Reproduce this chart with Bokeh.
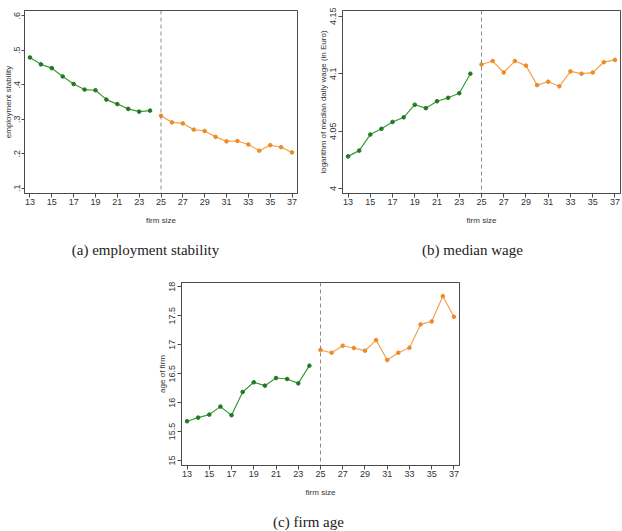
from bokeh.plotting import figure
from bokeh.models import Span, FixedTicker, Spacer
from bokeh.layouts import column, row
from bokeh.core.properties import value
from bokeh.embed import file_html
from bokeh.resources import INLINE

# firm size (number of employees) on the horizontal axis
firm_size = list(range(13, 38))
cutoff = 25

# outcomes by firm size
employment_stability = [0.479, 0.459, 0.448, 0.424, 0.402, 0.386, 0.384, 0.357, 0.344, 0.330, 0.322, 0.325,
                        0.310, 0.291, 0.288, 0.270, 0.266, 0.249, 0.236, 0.237, 0.227, 0.209, 0.225, 0.219, 0.204]
log_median_wage = [4.028, 4.033, 4.047, 4.052, 4.058, 4.062, 4.073, 4.070, 4.076, 4.079, 4.083, 4.100,
                   4.108, 4.111, 4.101, 4.111, 4.107, 4.090, 4.093, 4.089, 4.102, 4.100, 4.101, 4.110, 4.112]
firm_age = [15.678, 15.741, 15.793, 15.931, 15.782, 16.184, 16.351, 16.293, 16.425, 16.408, 16.333, 16.638,
            16.908, 16.862, 16.983, 16.943, 16.897, 17.080, 16.736, 16.862, 16.948, 17.351, 17.402, 17.839, 17.483]

x_ticks = list(range(13, 38, 2))
stab_ticks = [0.1, 0.2, 0.3, 0.4, 0.5, 0.6]
stab_labels = [".1", ".2", ".3", ".4", ".5", ".6"]
wage_ticks = [4.0, 4.05, 4.1, 4.15]
wage_labels = ["4", "4.05", "4.1", "4.15"]
age_ticks = [15, 15.5, 16, 16.5, 17, 17.5, 18]
age_labels = ["15", "15.5", "16", "16.5", "17", "17.5", "18"]

captions = ["(a) employment stability", "(b) median wage", "(c) firm age"]

GREEN_LINE = "#3c9a3c"
GREEN_DOT = "#1f7a1f"
ORANGE_LINE = "#f5a24e"
ORANGE_DOT = "#f08a24"
AXIS_GREY = "#4a4a4a"
SANS = "Liberation Sans"
SERIF = "Liberation Serif"


def panel(values, y_range, yticks, ylabels, ylabel, width, height,
          left, right, top, bottom, y_tick_out=4, y_label_standoff=2, y_title_standoff=0):
    p = figure(width=width, height=height, x_range=(12.5, 37.5), y_range=y_range,
               output_backend="svg", toolbar_location=None,
               min_border_left=left, min_border_right=right,
               min_border_top=top, min_border_bottom=bottom)
    p.xgrid.visible = False
    p.ygrid.visible = False
    p.outline_line_color = AXIS_GREY
    p.outline_line_width = 1

    lo = [i for i, s in enumerate(firm_size) if s < cutoff]
    hi = [i for i, s in enumerate(firm_size) if s >= cutoff]
    for idx, lc, dc in ((lo, GREEN_LINE, GREEN_DOT), (hi, ORANGE_LINE, ORANGE_DOT)):
        xs = [firm_size[i] for i in idx]
        ys = [values[i] for i in idx]
        p.line(xs, ys, line_color=lc, line_width=1.2)
        p.scatter(xs, ys, size=3.6, marker="circle", fill_color=dc, line_color=dc)

    # threshold between the two firm-size groups
    p.add_layout(Span(location=cutoff, dimension="height", line_color="#8c8c8c",
                      line_dash="4 3", line_width=1))

    p.xaxis.ticker = FixedTicker(ticks=x_ticks)
    p.yaxis.ticker = FixedTicker(ticks=yticks)
    p.yaxis.major_label_overrides = {t: l for t, l in zip(yticks, ylabels)}
    p.yaxis.major_label_orientation = "vertical"
    for ax in (p.xaxis, p.yaxis):
        ax.axis_line_color = AXIS_GREY
        ax.major_tick_line_color = AXIS_GREY
        ax.major_tick_in = 0
        ax.minor_tick_line_color = None
        ax.major_label_text_font = SANS
        ax.major_label_text_font_size = "9px"
        ax.major_label_text_color = "#333333"
        ax.axis_label_text_font = SANS
        ax.axis_label_text_font_size = "8px"
        ax.axis_label_text_font_style = "normal"
        ax.axis_label_text_color = "#333333"
    p.xaxis.major_tick_out = 4
    p.xaxis.major_label_standoff = 1
    p.xaxis.axis_label = "firm size"
    p.xaxis.axis_label_standoff = 8
    p.yaxis.major_tick_out = y_tick_out
    p.yaxis.major_label_standoff = y_label_standoff
    p.yaxis.axis_label = ylabel
    p.yaxis.axis_label_standoff = y_title_standoff
    return p


def caption_strip(text, width, height, cx, cy):
    c = figure(width=width, height=height, x_range=(0, width), y_range=(0, height),
               x_axis_type=None, y_axis_type=None, output_backend="svg",
               toolbar_location=None, min_border=0)
    c.outline_line_color = None
    c.xgrid.visible = False
    c.ygrid.visible = False
    c.text(x=[cx], y=[cy], text=[text], text_font=value(SERIF), text_font_size="15px",
           text_align="center", text_baseline="middle", text_color="#222222")
    return c


pa = panel(employment_stability, (0.085, 0.615), stab_ticks, stab_labels,
           "employment stability", 311, 235, 0, 14, 10, 42,
           y_tick_out=3, y_label_standoff=1, y_title_standoff=-1)
pb = panel(log_median_wage, (3.9957, 4.155), wage_ticks, wage_labels,
           "logarithm of median daily wage (in Euro)", 311, 235, 31, 2, 9, 42)
pc = panel(firm_age, (14.914, 18.075), age_ticks, age_labels,
           "age of firm", 311, 244, 31, 2, 19, 42)

ca = caption_strip(captions[0], 311, 28, 145, 14)
cb = caption_strip(captions[1], 311, 28, 161, 14)
cc = caption_strip(captions[2], 311, 24, 158, 9.3)

layout = column(row(pa, pb), row(ca, cb),
                row(Spacer(width=150, height=244), pc),
                row(Spacer(width=150, height=24), cc))

with open("out.html", "w") as f:
    f.write(file_html(layout, INLINE))
